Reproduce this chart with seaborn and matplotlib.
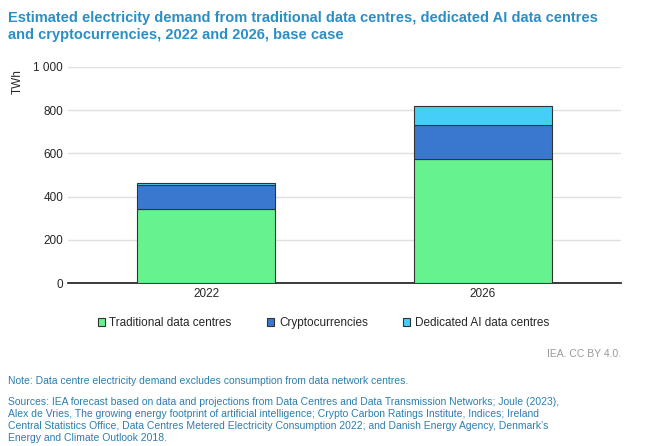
import pandas as pd
import seaborn as sns
import matplotlib.pyplot as plt

years = ['2022', '2026']
traditional = [344, 574]
crypto = [111, 157]
dedicated_ai = [8, 90]

sns.set_theme(style="white")
plt.rcParams['font.family'] = ['Liberation Sans', 'DejaVu Sans']

fig = plt.figure(figsize=(6.47, 4.46), dpi=100)
ax = fig.add_axes([0.105, 0.365, 0.855, 0.485])

df = pd.DataFrame({'Year': years, 'Traditional data centres': traditional,
                   'Cryptocurrencies': crypto, 'Dedicated AI data centres': dedicated_ai})
colors = {'Traditional data centres': '#66f28f', 'Cryptocurrencies': '#3a78d0',
          'Dedicated AI data centres': '#45cff8'}

bottom = [0, 0]
for col in ['Traditional data centres', 'Cryptocurrencies', 'Dedicated AI data centres']:
    ax.bar(df['Year'], df[col], bottom=bottom, width=0.5, color=colors[col],
           edgecolor='#333333', linewidth=0.8, label=col, zorder=3)
    bottom = [b + v for b, v in zip(bottom, df[col])]

ax.set_ylim(0, 1000)
ax.set_xlim(-0.5, 1.5)
ax.set_yticks(range(0, 1001, 200))
ax.set_yticklabels(['0', '200', '400', '600', '800', '1 000'], fontsize=8.5)
ax.tick_params(axis='x', labelsize=8.5, length=0)
ax.tick_params(axis='y', length=0)
ax.yaxis.grid(True, color='#e0e0e0', linewidth=1, zorder=0)
for s in ['top', 'right', 'left']:
    ax.spines[s].set_visible(False)
ax.spines['bottom'].set_color('#222222')
ax.set_ylabel('TWh', fontsize=8.5, labelpad=2)
ax.yaxis.set_label_coords(-0.08, 0.93)

handles, labels = ax.get_legend_handles_labels()
leg = fig.legend(handles, labels, loc='center', bbox_to_anchor=(0.5, 0.275), ncol=3, frameon=False,
                 fontsize=8.5, handlelength=0.6, handleheight=0.6, columnspacing=3, handletextpad=0.4)

fig.text(0.012, 0.975, 'Estimated electricity demand from traditional data centres, dedicated AI data centres\n'
         'and cryptocurrencies, 2022 and 2026, base case', fontsize=10.5, fontweight='bold',
         color='#2a8fc4', va='top', linespacing=1.3)
fig.text(0.96, 0.2, 'IEA. CC BY 4.0.', fontsize=7.5, color='#999999', ha='right')

fig.text(0.012, 0.14, 'Note: Data centre electricity demand excludes consumption from data network centres.',
         fontsize=7.5, color='#2a7fb0')
src = ('Sources: IEA forecast based on data and projections from Data Centres and Data Transmission Networks; Joule (2023),\n'
       'Alex de Vries, The growing energy footprint of artificial intelligence; Crypto Carbon Ratings Institute, Indices; Ireland\n'
       'Central Statistics Office, Data Centres Metered Electricity Consumption 2022; and Danish Energy Agency, Denmark\u2019s\n'
       'Energy and Climate Outlook 2018.')
fig.text(0.012, 0.11, src, fontsize=7.5, color='#2a7fb0', va='top', linespacing=1.25)

fig.savefig('out.png', dpi=100)
